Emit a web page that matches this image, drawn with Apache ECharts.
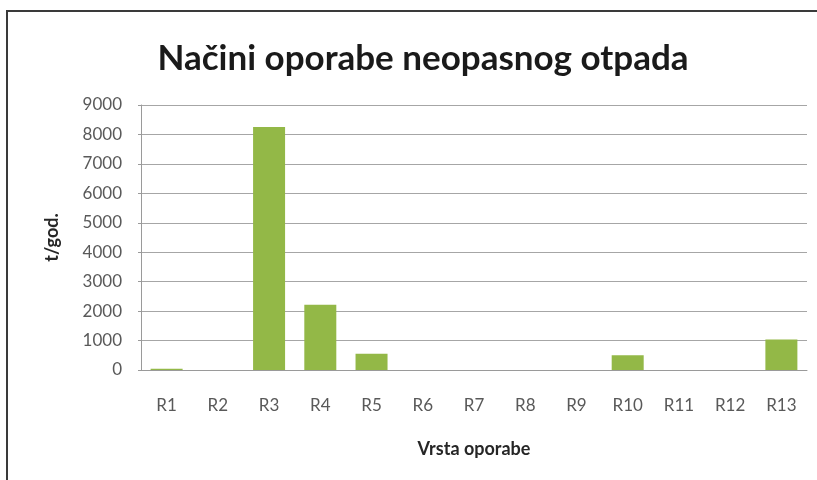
<!DOCTYPE html>
<html><head><meta charset="utf-8">
<script src="https://cdn.jsdelivr.net/npm/echarts@6/dist/echarts.min.js"></script>
<style>html,body{margin:0;padding:0;background:#fff;}#c{width:817px;height:480px;}</style>
</head><body><div id="c"></div>
<script>
const title = 'Načini oporabe neopasnog otpada';
const categories = ['R1','R2','R3','R4','R5','R6','R7','R8','R9','R10','R11','R12','R13'];
const values = [40, 0, 8250, 2220, 550, 0, 0, 0, 0, 500, 0, 0, 1040];
const yName = 't/god.';
const xName = 'Vrsta oporabe';
const yMin = 0, yMax = 9000, yStep = 1000;

const chart = echarts.init(document.getElementById('c'), null, {renderer:'canvas'});
const F = 'Lato, "Open Sans", sans-serif';
chart.setOption({
  animation:false,
  backgroundColor:'#ffffff',
  title:{text:title,left:418,top:36,textAlign:'center',
    textStyle:{fontFamily:F,fontWeight:'bold',fontSize:35,color:'#1a1a1a'}},
  graphic:[
    {type:'line',shape:{x1:6,y1:11,x2:817,y2:11},style:{stroke:'#3a3a3a',lineWidth:2},silent:true},
    {type:'line',shape:{x1:7,y1:10,x2:7,y2:480},style:{stroke:'#3a3a3a',lineWidth:2},silent:true}
  ],
  grid:{left:141,right:10,top:105,bottom:110},
  xAxis:{type:'category',data:categories,
    name:xName,nameLocation:'middle',nameGap:70,
    nameTextStyle:{fontFamily:F,fontWeight:'bold',fontSize:18,color:'#262626'},
    axisLine:{lineStyle:{color:'#9a9a9a',width:1}},
    axisTick:{show:false},
    axisLabel:{fontFamily:F,fontSize:17,color:'#595959',margin:27}},
  yAxis:{type:'value',min:yMin,max:yMax,interval:yStep,
    name:yName,nameLocation:'middle',nameGap:80,nameRotate:90,
    nameTextStyle:{fontFamily:F,fontWeight:'bold',fontSize:18,color:'#262626'},
    axisLine:{show:true,lineStyle:{color:'#9a9a9a',width:1}},
    axisTick:{show:true,length:3,lineStyle:{color:'#9a9a9a'}},
    axisLabel:{fontFamily:F,fontSize:17,color:'#595959',margin:19,formatter:v=>String(v)},
    splitLine:{lineStyle:{color:'#a6a6a6',width:1}}},
  series:[{type:'bar',data:values,barWidth:32,
    itemStyle:{color:'#93b847'}}]
});
</script></body></html>
